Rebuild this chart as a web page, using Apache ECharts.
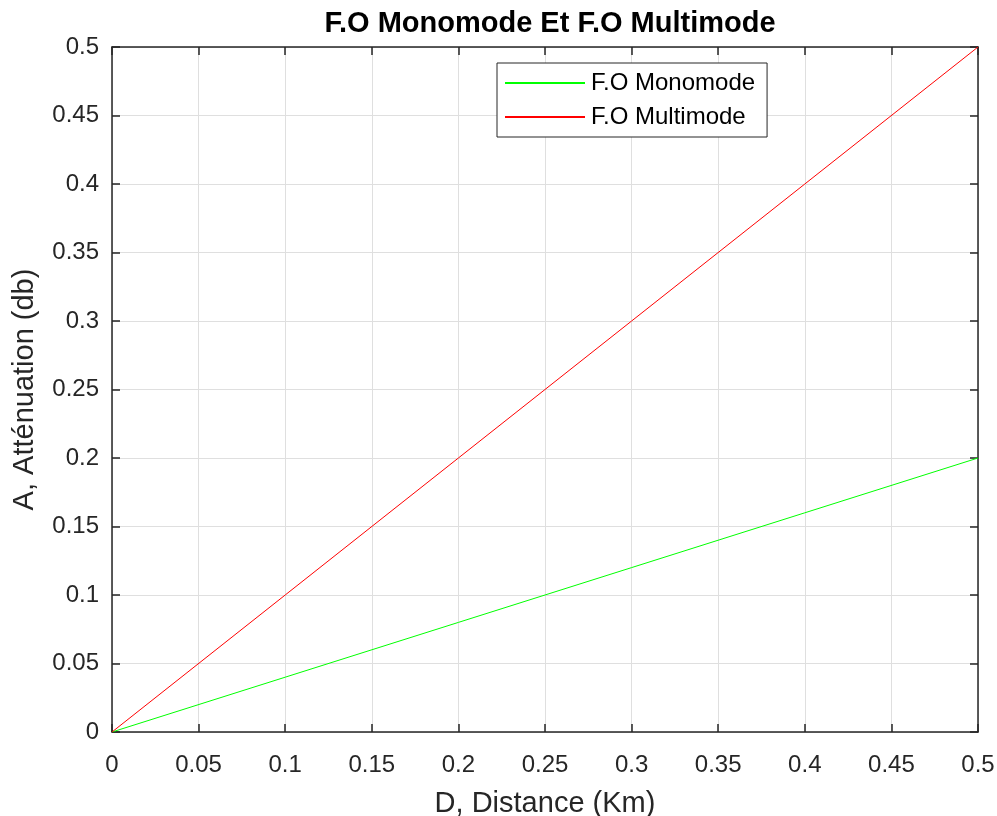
<!DOCTYPE html>
<html>
<head>
<meta charset="utf-8">
<script src="https://cdn.jsdelivr.net/npm/echarts@6/dist/echarts.min.js"></script>
<style>
  html, body { margin: 0; padding: 0; background: #fff; }
  #chart { width: 997px; height: 816px; }
</style>
</head>
<body>
<div id="chart"></div>
<script>
const distance = [0, 0.1, 0.2, 0.3, 0.4, 0.5];
const monomode = [0, 0.04, 0.08, 0.12, 0.16, 0.2];
const multimode = [0, 0.1, 0.2, 0.3, 0.4, 0.5];

const axisColor = '#262626';
const font = 'Liberation Sans, Arial, sans-serif';

const pairs = ys => distance.map((x, i) => [x, ys[i]]);

// MATLAB style box: ticks pointing inward on all four sides
const tickInside = { show: true, inside: true, length: 8, lineStyle: { color: axisColor, width: 1.5 } };
const boxLine = { show: true, onZero: false, lineStyle: { color: axisColor, width: 1.5 } };

const chart = echarts.init(document.getElementById('chart'));
chart.setOption({
  animation: false,
  backgroundColor: '#fff',
  title: {
    text: 'F.O Monomode Et F.O Multimode',
    left: 545, top: 4, textAlign: 'center',
    textStyle: { fontFamily: font, fontSize: 29, fontWeight: 'bold', color: '#000' }
  },
  legend: {
    orient: 'vertical',
    left: 497, top: 63,
    padding: [8, 12, 8, 8],
    itemGap: 10,
    itemWidth: 80, itemHeight: 2,
    borderColor: axisColor, borderWidth: 1,
    backgroundColor: '#fff',
    icon: 'rect',
    textStyle: { fontFamily: font, fontSize: 24, color: '#000', padding: [0, 0, 0, 1] },
    data: ['F.O Monomode', 'F.O Multimode']
  },
  grid: { left: 112, right: 19, top: 47, bottom: 84, containLabel: false, outerBoundsMode: 'none' },
  xAxis: [{
    type: 'value', min: 0, max: 0.5, interval: 0.05,
    name: 'D, Distance (Km)', nameLocation: 'middle', nameGap: 57,
    nameTextStyle: { fontFamily: font, fontSize: 29, color: axisColor },
    axisLine: boxLine,
    axisTick: tickInside,
    axisLabel: { fontFamily: font, fontSize: 24, color: axisColor, margin: 21 },
    splitLine: { show: true, lineStyle: { color: '#dfdfdf', width: 1 } }
  }, {
    type: 'value', position: 'top', min: 0, max: 0.5, interval: 0.05,
    axisLine: boxLine,
    axisTick: tickInside, axisLabel: { show: false }, splitLine: { show: false }
  }],
  yAxis: [{
    type: 'value', min: 0, max: 0.5, interval: 0.05,
    name: 'A, Atténuation (db)', nameLocation: 'middle', nameGap: 73,
    nameTextStyle: { fontFamily: font, fontSize: 29, color: axisColor },
    axisLine: boxLine,
    axisTick: tickInside,
    axisLabel: { fontFamily: font, fontSize: 24, color: axisColor, margin: 13 },
    splitLine: { show: true, lineStyle: { color: '#dfdfdf', width: 1 } }
  }, {
    type: 'value', position: 'right', min: 0, max: 0.5, interval: 0.05,
    axisLine: boxLine,
    axisTick: tickInside, axisLabel: { show: false }, splitLine: { show: false }
  }],
  series: [{
    name: 'F.O Monomode', type: 'line', data: pairs(monomode),
    showSymbol: false, color: '#00ff00', lineStyle: { width: 1 }
  }, {
    name: 'F.O Multimode', type: 'line', data: pairs(multimode),
    showSymbol: false, color: '#ff0000', lineStyle: { width: 1 }
  }]
});
</script>
</body>
</html>
